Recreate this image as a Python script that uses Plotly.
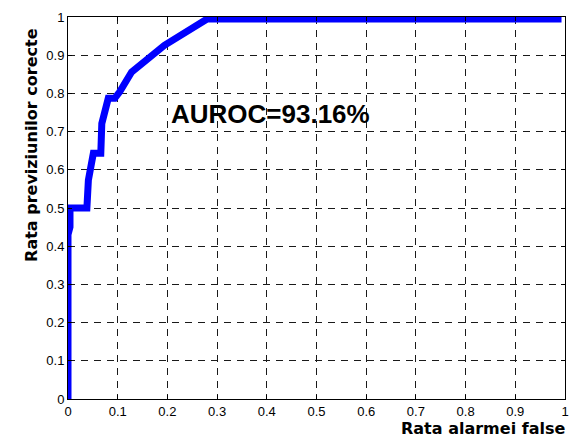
import plotly.graph_objects as go

# ROC curve points
fpr = [0, 0, 0.004, 0.004, 0.038, 0.041, 0.051, 0.066, 0.068, 0.081, 0.094, 0.104, 0.128, 0.194, 0.280, 0.993]
tpr = [0, 0.43, 0.45, 0.5, 0.5, 0.573, 0.643, 0.643, 0.721, 0.787, 0.787, 0.804, 0.856, 0.926, 0.995, 0.995]

tick_vals = [0, 0.1, 0.2, 0.3, 0.4, 0.5, 0.6, 0.7, 0.8, 0.9, 1]
tick_text = ["0", "0.1", "0.2", "0.3", "0.4", "0.5", "0.6", "0.7", "0.8", "0.9", "1"]

x_title = "Rata alarmei false"
y_title = "Rata previziunilor corecte"
auroc_text = "AUROC=93.16%"

fig = go.Figure()
fig.add_trace(go.Scatter(x=fpr, y=tpr, mode="lines",
                         line=dict(color="#0000FF", width=7),
                         showlegend=False, hoverinfo="skip"))

axis_common = dict(
    range=[0, 1], tickvals=tick_vals, ticktext=tick_text,
    showgrid=True, gridcolor="#1a1a1a", gridwidth=1, griddash="7px,6px",
    showline=True, linecolor="black", linewidth=1, mirror="ticks",
    ticks="inside", ticklen=4, tickcolor="black",
    zeroline=False, ticklabeloverflow="allow",
    tickfont=dict(family="Liberation Sans", size=13, color="black"),
    fixedrange=True,
)
fig.update_xaxes(**axis_common)
fig.update_yaxes(**axis_common)

fig.add_annotation(text=auroc_text, xref="x", yref="y", x=0.204, y=0.746,
                   xanchor="left", yanchor="middle", showarrow=False,
                   font=dict(family="Liberation Sans", size=26, color="black", weight="bold"))
fig.add_annotation(text=x_title, xref="paper", yref="paper", x=1.004, y=-0.078,
                   xanchor="right", yanchor="middle", showarrow=False,
                   font=dict(family="DejaVu Sans", size=16, color="black", weight="bold"))
fig.add_annotation(text=y_title, xref="paper", yref="paper", x=-0.0725, y=0.665,
                   xanchor="center", yanchor="middle", showarrow=False, textangle=-90,
                   font=dict(family="DejaVu Sans", size=16, color="black", weight="bold"))

fig.update_layout(
    width=571, height=439,
    margin=dict(l=68, r=2, t=17, b=40),
    paper_bgcolor="white", plot_bgcolor="white",
)
fig.write_html("out.html")
